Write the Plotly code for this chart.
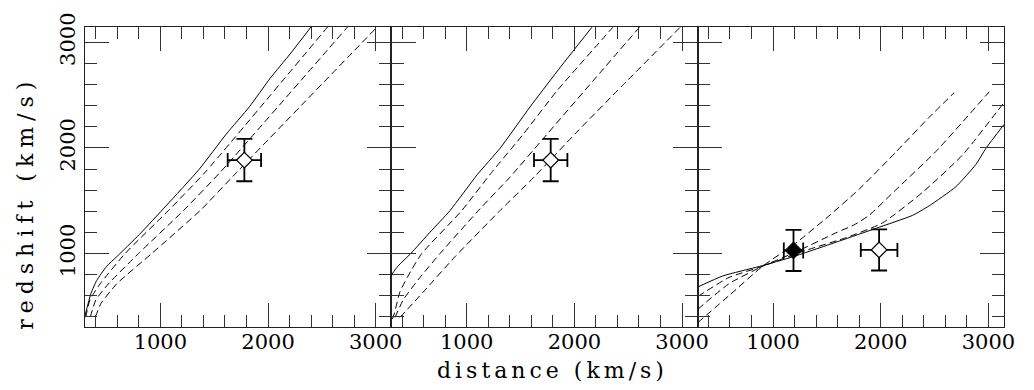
import plotly.graph_objects as go

# panel 1
a_solid_x = [298, 356, 408, 501, 594, 805, 1053, 1362, 1611, 1827, 2020, 2205, 2401]
a_solid_y = [403, 625, 744, 880, 970, 1181, 1452, 1800, 2130, 2390, 2660, 2890, 3148]
a_d1_x = [307, 345, 440, 672, 1074, 1415, 2555]
a_d1_y = [398, 560, 713, 1000, 1407, 1769, 3148]
a_d2_x = [350, 400, 517, 796, 1214, 1555, 2741]
a_d2_y = [400, 560, 713, 1000, 1407, 1769, 3148]
a_d3_x = [396, 450, 594, 919, 1369, 1709, 3010]
a_d3_y = [400, 530, 713, 1000, 1407, 1769, 3142]

# panel 2
b_solid_x = [300, 360, 480, 659, 845, 1100, 1309, 1588, 1836, 2162]
b_solid_y = [798, 880, 1000, 1202, 1407, 1750, 1996, 2388, 2720, 3142]
b_d1_x = [310, 330, 380, 489, 582, 954, 1232, 1526, 1836, 2357]
b_d1_y = [380, 440, 638, 849, 1000, 1407, 1769, 2131, 2538, 3142]
b_d2_x = [334, 411, 566, 752, 1108, 1402, 1712, 2232, 2604]
b_d2_y = [396, 563, 774, 1000, 1407, 1724, 2090, 2704, 3142]
b_d3_x = [380, 600, 891, 1309, 1625, 2022, 2455, 2982]
b_d3_y = [396, 640, 970, 1407, 1724, 2150, 2600, 3142]

# panel 3
c_solid_x = [300, 535, 876, 1186, 1620, 1961, 2296, 2450, 2698, 2884, 2977, 3145]
c_solid_y = [683, 789, 879, 970, 1120, 1241, 1362, 1452, 1633, 1844, 1996, 2222]
c_d1_x = [300, 600, 901, 1200, 1500, 1800, 2140, 2450, 2682]
c_d1_y = [345, 610, 879, 1090, 1340, 1610, 1960, 2290, 2523]
c_d2_x = [300, 591, 901, 1211, 1583, 1753, 1892, 2140, 2512, 3008]
c_d2_y = [472, 715, 879, 1015, 1196, 1272, 1362, 1603, 1966, 2532]
c_d3_x = [300, 591, 901, 1304, 1676, 2017, 2389, 2761, 3145]
c_d3_y = [593, 774, 879, 1030, 1150, 1290, 1580, 1935, 2430]

# data points
open_x = [1780, 1780, 1985]
open_y = [1885, 1885, 1035]
open_xerr = [155, 155, 170]
open_yerr = [200, 200, 195]
filled_x = [1190]
filled_y = [1030]
filled_xerr = [90]
filled_yerr = [195]

panels = [
    ("x", "y", [(a_solid_x, a_solid_y), (a_d1_x, a_d1_y), (a_d2_x, a_d2_y), (a_d3_x, a_d3_y)]),
    ("x2", "y2", [(b_solid_x, b_solid_y), (b_d1_x, b_d1_y), (b_d2_x, b_d2_y), (b_d3_x, b_d3_y)]),
    ("x3", "y3", [(c_solid_x, c_solid_y), (c_d1_x, c_d1_y), (c_d2_x, c_d2_y), (c_d3_x, c_d3_y)]),
]

fig = go.Figure()

for xa, ya, curves in panels:
    for i, (cx, cy) in enumerate(curves):
        fig.add_trace(go.Scatter(
            x=cx, y=cy, xaxis=xa, yaxis=ya, mode="lines",
            line=dict(color="black", width=1, dash="solid" if i == 0 else "7px,4px", shape="spline", smoothing=0.5),
            showlegend=False, hoverinfo="skip"))

for i, (xa, ya, _) in enumerate(panels):
    fig.add_trace(go.Scatter(
        x=[open_x[i]], y=[open_y[i]], xaxis=xa, yaxis=ya, mode="markers",
        marker=dict(symbol="diamond", size=12, color="white", line=dict(color="black", width=1.3)),
        error_x=dict(type="data", array=[open_xerr[i]], width=7, thickness=1.8, color="black"),
        error_y=dict(type="data", array=[open_yerr[i]], width=8, thickness=1.8, color="black"),
        showlegend=False))

fig.add_trace(go.Scatter(
    x=filled_x, y=filled_y, xaxis="x3", yaxis="y3", mode="markers",
    marker=dict(symbol="diamond", size=13, color="black", line=dict(color="black", width=1)),
    error_x=dict(type="data", array=filled_xerr, width=8, thickness=1.8, color="black"),
    error_y=dict(type="data", array=filled_yerr, width=8, thickness=1.8, color="black"),
    showlegend=False))

tickfont = dict(family="DejaVu Serif", size=21, color="black")


def axis_style(show_labels, **kw):
    d = dict(
        range=[300, 3145], tick0=0, dtick=1000, ticks="inside", ticklen=24, tickwidth=1.3,
        tickcolor="#333", showline=True, linewidth=1.4, linecolor="#222", mirror="ticks",
        showgrid=False, zeroline=False, showticklabels=show_labels, tickfont=tickfont,
        ticklabeloverflow="allow",
        minor=dict(dtick=200, ticks="inside", ticklen=12, tickwidth=1.3, tickcolor="#333", showgrid=False),
    )
    d.update(kw)
    return d


# the page body has an 8px margin, so the figure is drawn 8px smaller and shifted
W, H = 1026, 382
L, T = 77, 5

fig.update_layout(
    width=W, height=H,
    margin=dict(l=L, r=W - L - 919, t=T, b=H - T - 314),
    paper_bgcolor="white", plot_bgcolor="white",
    xaxis=axis_style(True, domain=[0, 1 / 3], anchor="y", ticklabelstandoff=-4),
    xaxis2=axis_style(True, domain=[1 / 3, 2 / 3], anchor="y2", ticklabelstandoff=-4),
    xaxis3=axis_style(True, domain=[2 / 3, 1], anchor="y3", ticklabelstandoff=-4),
    yaxis=axis_style(True, range=[305, 3145], anchor="x", tickangle=-90),
    yaxis2=axis_style(False, range=[305, 3145], anchor="x2"),
    yaxis3=axis_style(False, range=[305, 3145], anchor="x3"),
    annotations=[
        dict(text='<span style="letter-spacing:4px">distance (km/s)</span>', xref="paper", yref="paper",
             x=(552 - 85) / 919, y=(327 - 373) / 314, xanchor="center", yanchor="middle", showarrow=False,
             font=dict(family="DejaVu Serif", size=22, color="black")),
        dict(text='<span style="letter-spacing:6px">redshift (km/s)</span>', xref="paper", yref="paper",
             x=(26 - 85) / 919, y=(327 - 197) / 314, xanchor="center", yanchor="middle", showarrow=False,
             textangle=-90, font=dict(family="DejaVu Serif", size=22, color="black")),
    ],
)

fig.write_html("out.html")
